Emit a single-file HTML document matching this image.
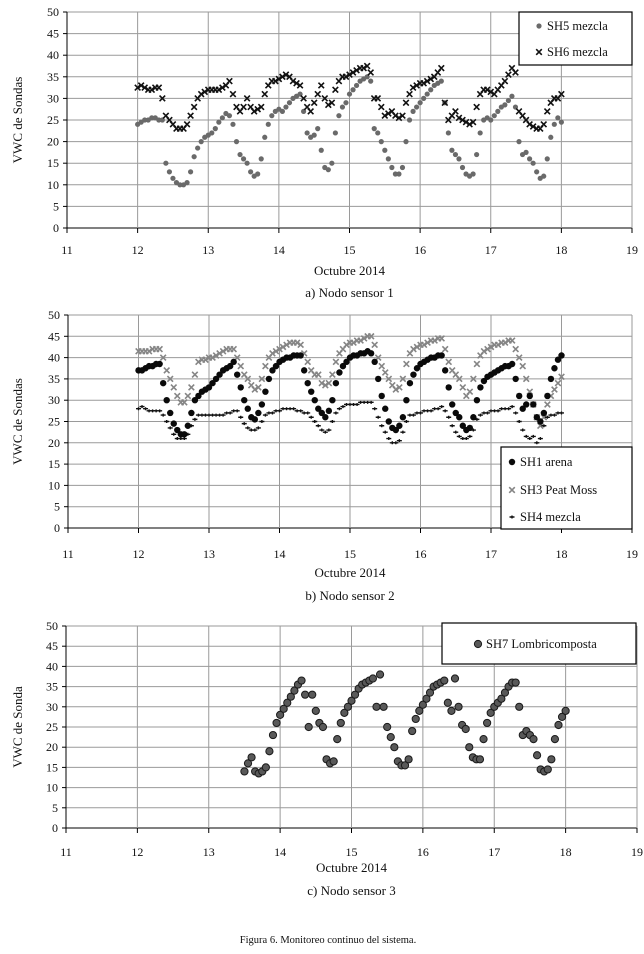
<!DOCTYPE html>
<html><head><meta charset="utf-8">
<style>
body{margin:0;background:#fff;width:644px;height:954px;overflow:hidden;font-family:"Liberation Serif",serif;}
svg{position:absolute;left:0;top:0}
text{font-family:"Liberation Serif",serif;fill:#111}
</style></head>
<body>
<svg id="fig" width="644" height="954"></svg>
<script>
// ---- data (day of Oct 2014 sampled every 0.05 day) ----
const xTicks=[11,12,13,14,15,16,17,18,19];
const yTicks=[0,5,10,15,20,25,30,35,40,45,50];
const step=0.05;
const sh5Start=12;
const sh5=[24,24.5,25,25,25.5,25.5,25,25,15,13,11.5,10.5,10,10,10.5,13,16.5,18.5,20,21,21.5,22,23,24.5,25.5,26.5,26,24,20,17,16,15,13,12,12.5,16,21,24,26,27,27.5,27,28,29,30,30.5,31,27,22,21,21.5,23,18,14,13.5,15,22,26,28,29,31,32,33,34,34.5,35,34,23,22,20,18,16,14,12.5,12.5,14,20,25,27,28,29,30,31,32,33,33.5,34,29,22,18,17,16,14,12.5,12,12.5,17,22,25,25.5,25,26,27,28,28.5,29.5,30.5,28,20,17,17.5,16,15,13,11.5,12,16,21,24,25.5,24.5];
const sh6=[32.5,33,32.5,32,32,32.5,32.5,30,26,25,24,23,23,23,24,26,28,30,31,31.5,32,32,32,32,32.5,33,34,31,28,27,28,30,28,27,27.5,28,31,33,34,34,34.5,35,35.5,35,34,33.5,33,30,28,27,29,31,33,30,28.5,29,32,34,35,35,35.5,36,36.5,37,37,37.5,36,30,30,28,26,26.5,27,26,25.5,26,29,31,32.5,33,33.5,33.5,34,34.5,35,36,37,29,25,26,27,25.5,25,24.5,24,24.5,28,31,32,32,31.5,31,32,33,34,35.5,37,36,27,26,25,24,23.5,23,23,24,27,29,30,30,31];
const sh1=[37,37,37.5,38,38,38.5,38.5,34,30,27,24.5,23,22,22,24,27,30,31,32,32.5,33,34,35,36,37,37.5,38,39,36,33,30,28,26,25.5,27,29,32,35,37,38,39,39.5,40,40,40.5,40.5,40.5,37,34,32,30,28,27,26,27.5,30,34,36.5,38,39,40,40.5,40.5,41,41,41.5,41,39,35,31,28,25,23.5,23,24,26,30,34,36,37.5,38.5,39,39.5,40,40,40.5,40.5,37,33,29,27,26,24,23,23.5,26,30,33,34.5,35.5,36,36.5,37,37.5,38,38,38.5,35,31,28,29,31,29,26,25,27,31,35,37.5,39.5,40.5];
const sh3=[41.5,41.5,41.5,41.5,42,42,42,40,37,35,33,31,29.5,29.5,31,33,36,39,39.5,39.5,40,40,40.5,41,41.5,42,42,42,40,38,36,35,33.5,32.5,33,35,38,40,41,41.5,42,42.5,43,43.5,43.5,43.5,43,41,39,37,36,36,34,33.5,34,36,39,41,42,43,43.5,43.5,44,44,44.5,45,45,43,40,38,36.5,35,33.5,32.5,33,35,38.5,41,42,42.5,43,43,43.5,44,44,44.5,44.5,42,39,37,36,35,33,31,32,35,38.5,40.5,41.5,42,42.5,43,43,43.5,43.5,44,44,42,40,38,35,32,29,26,24,26,29,31,32.5,34,35.5];
const sh4=[28,28.5,28,27.5,27.5,27.5,27.5,26.5,25,23.5,22,21,21,21,22,24,25.5,26.5,26.5,26.5,26.5,26.5,26.5,26.5,26.5,27,27,27.5,27.5,26,24.5,23.5,23,23,23.5,25,26.5,27,27,27.5,27.5,28,28,28,28,27.5,27.5,27,27,26,25,24,23,22.5,23,25,27,28,28.5,29,29,29,29,29.5,29.5,29.5,29.5,28,26,24,22.5,21,20,20,20.5,22.5,25,26.5,26.5,27,27,27.5,27.5,27.5,28,28,28.5,27.5,26,24,22.5,21.5,21,21,21.5,23,25.5,26.5,27,27,27.5,27.5,27.5,28,28,28,28.5,27,25,23,21.5,21,21.5,20,21,24,26,26.5,26.5,27,27];
const sh7Start=13.5;
const sh7=[14,16,17.5,14,13.5,14,15,19,23,26,28,29.5,31,32.5,34,35.5,36.5,33,25,33,29,26,25,17,16,16.5,22,26,28.5,30,31.5,33,34.5,35.5,36,36.5,37,30,38,30,25,22.5,20,16.5,15.5,15.5,17,24,27,29,30.5,32,33.5,35,35.5,36,36.5,31,29,37,30,25.5,24.5,20,17.5,17,17,22,26,28.5,30,31,32,33.5,35,36,36,30,23,24,23,22,18,14.5,14,14.5,17,22,25.5,27.5,29];

const NS='http://www.w3.org/2000/svg';
const svg=document.getElementById('fig');
function mk(tag,attrs,parent){const e=document.createElementNS(NS,tag);for(const k in attrs)e.setAttribute(k,attrs[k]);(parent||svg).appendChild(e);return e;}

function axes(c){
  const g=mk('g',{});
  
  
  c.sx=v=>c.x0+(v-11)/8*(c.x1-c.x0);
  c.sy=v=>c.y1-v/50*(c.y1-c.y0);
  yTicks.forEach(t=>{
    const l=mk('line',{x1:c.x0,x2:c.x1,y1:c.sy(t),y2:c.sy(t),stroke:t===0?'#000':'#9a9a9a','stroke-width':1},g);
    
    
    mk('line',{x1:c.x0-4,x2:c.x0,y1:c.sy(t),y2:c.sy(t),stroke:'#000'},g);
    const tx=mk('text',{x:c.x0-8,y:c.sy(t)+4,'text-anchor':'end','font-size':12},g);
    tx.textContent=t;
    
    
  });
  xTicks.forEach(t=>{
    if(t>11){const l=mk('line',{x1:c.sx(t),x2:c.sx(t),y1:c.y0,y2:c.y1,stroke:'#9a9a9a'},g);
      
      }
    mk('line',{x1:c.sx(t),x2:c.sx(t),y1:c.y1,y2:c.y1+5,stroke:'#000'},g);
    const tx=mk('text',{x:c.sx(t),y:c.xl,'text-anchor':'middle','font-size':12},g);
    tx.textContent=t;
    
    
  });
  mk('line',{x1:c.x0,x2:c.x0,y1:c.y0,y2:c.y1+1,stroke:'#000'},g);
  const yt=mk('text',{x:0,y:0,transform:`translate(${c.ytx},${(c.y0+c.y1)/2}) rotate(-90)`,'text-anchor':'middle','font-size':13},g);
  yt.textContent=c.ytitle;
  
  
  const xt=mk('text',{x:(c.x0+c.x1)/2,y:c.xtY,'text-anchor':'middle','font-size':13},g);
  xt.textContent='Octubre 2014';
  
  
  const cap=mk('text',{x:(c.x0+c.x1)/2,y:c.capY,'text-anchor':'middle','font-size':13},g);
  cap.textContent=c.caption;
  
  
  return g;
}
function marker(g,type,x,y,color){
  let e;
  if(type==='dot'){e=mk('circle',{cx:x,cy:y,r:2.6,fill:color},g);}
  else if(type==='bigdot'){e=mk('circle',{cx:x,cy:y,r:3.2,fill:color},g);}
  else if(type==='dot7'){e=mk('circle',{cx:x,cy:y,r:3.6,fill:'#595959',stroke:'#1a1a1a','stroke-width':1},g);}
  else if(type==='x'){e=mk('path',{d:`M${x-2.8},${y-2.8}L${x+2.8},${y+2.8}M${x-2.8},${y+2.8}L${x+2.8},${y-2.8}`,stroke:color,'stroke-width':1.6},g);}
  else if(type==='plus'){e=mk('path',{d:`M${x-2.5},${y}L${x+2.5},${y}M${x},${y-1.5}L${x},${y+1.5}`,stroke:color,'stroke-width':1.4},g);}
  return e;
}
function series(c,name,arr,start,type,color){
  const g=mk('g',{});
  
  
  arr.forEach((v,i)=>{
    const m=marker(g,type,c.sx(start+i*step),c.sy(v),color);
    
    
  });
}
function legend(x,y,w,h,items){
  const g=mk('g',{});
  
  
  mk('rect',{x:x,y:y,width:w,height:h,fill:'#fff',stroke:'#000','stroke-width':1.2},g);
  items.forEach(it=>{
    const e=mk('g',{},g);
    
    
    marker(e,it.type,it.mx,it.y-4,it.color);
    const t=mk('text',{x:it.mx+8,y:it.y,'font-size':12.5},e);
    t.textContent=it.label;
  });
}

const c1={name:'chart-nodo-1',x0:67,x1:632,y0:12,y1:228,xl:254,ytx:22,ytitle:'VWC de Sondas',xtY:275,capY:297,caption:'a) Nodo sensor 1'};
axes(c1);
series(c1,'sh5-series',sh5,sh5Start,'dot','#6a6a6a');
series(c1,'sh6-series',sh6,sh5Start,'x','#111');
legend(519,12,113,53,[{type:'dot',mx:539,y:30,label:'SH5 mezcla',color:'#6a6a6a'},{type:'x',mx:539,y:56,label:'SH6 mezcla',color:'#111'}]);

const c2={name:'chart-nodo-2',x0:68,x1:632,y0:315,y1:528,xl:558,ytx:22,ytitle:'VWC de Sondas',xtY:577,capY:600,caption:'b) Nodo sensor 2'};
axes(c2);
series(c2,'sh3-series',sh3,sh5Start,'x','#858585');
series(c2,'sh4-series',sh4,sh5Start,'plus','#111');
series(c2,'sh1-series',sh1,sh5Start,'bigdot','#0a0a0a');
legend(501,447,131,82,[{type:'bigdot',mx:512,y:466,label:'SH1 arena',color:'#0a0a0a'},{type:'x',mx:512,y:494,label:'SH3 Peat Moss',color:'#858585'},{type:'plus',mx:512,y:521,label:'SH4 mezcla',color:'#111'}]);

const c3={name:'chart-nodo-3',x0:66,x1:637,y0:626,y1:828,xl:856,ytx:22,ytitle:'VWC de Sonda',xtY:872,capY:895,caption:'c) Nodo sensor 3'};
axes(c3);
series(c3,'sh7-series',sh7,sh7Start,'dot7');
legend(442,623,194,41,[{type:'dot7',mx:478,y:648,label:'SH7 Lombricomposta'}]);

const fc=mk('text',{x:328,y:943,'text-anchor':'middle','font-size':10.5});
fc.textContent='Figura 6. Monitoreo continuo del sistema.';


</script>
</body></html>
